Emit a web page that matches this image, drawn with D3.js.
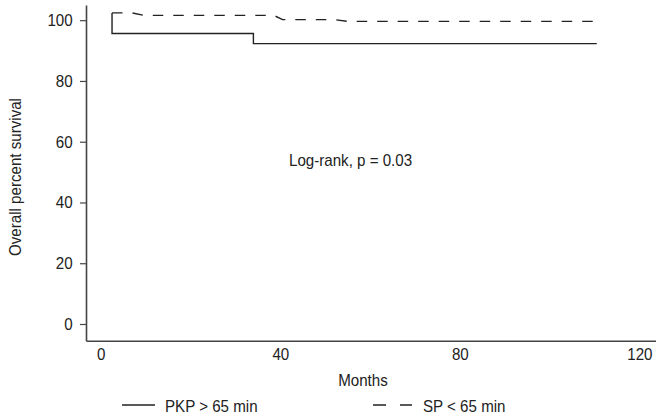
<!DOCTYPE html>
<html>
<head>
<meta charset="utf-8">
<script src="https://cdnjs.cloudflare.com/ajax/libs/d3/7.8.5/d3.min.js"></script>
<style>
body { margin: 0; background: #fff; }
svg { display: block; }
text { font-family: "Liberation Sans", Arial, sans-serif; fill: #222; }
</style>
</head>
<body>
<svg width="656" height="418"></svg>
<script>
// survival steps (months, percent)
var pkpMonths = [2.5, 2.5, 34, 34, 110.5];
var pkpSurvival = [102.4, 95.6, 95.6, 92.3, 92.3];

var spMonths = [2.5, 7, 9.5, 38.5, 40.5, 52, 55, 110.5];
var spSurvival = [102.4, 102.4, 101.6, 101.6, 100.2, 100.2, 99.6, 99.6];

var yTicks = [0, 20, 40, 60, 80, 100];
var xTicks = [0, 40, 80, 120];
var seriesNames = ["PKP > 65 min", "SP < 65 min"];

function pairs(xs, ys){
	return xs.map(function(d, i){ return [d, ys[i]] })
};

// the original type is a condensed face, squeeze the regular one
var squeeze = 'scale(0.89,1)';

function label(svg, x, y, txt, anchor, rotate){
	var g = svg.append('g')
		.attr('transform', 'translate(' + x + ',' + y + ')' + (rotate ? ' rotate(-90)' : '') + ' ' + squeeze);
	return g.append('text')
		.attr('text-anchor', anchor || 'start')
		.style('font-size', '17px')
		.text(txt);
};

window.onload = function(){

	var svg = d3.select('svg');

	var x = d3.scaleLinear().domain([-3.3, 123.7]).range([86, 656]);
	var y = d3.scaleLinear().domain([-5.5, 105]).range([340.7, 5]);

	// y axis
	var yAxis = svg.append('g')
		.attr('transform', 'translate(86,0)')
		.call(d3.axisLeft(y).tickValues(yTicks).tickSize(6).tickSizeOuter(0).tickPadding(9));
	yAxis.selectAll('text').style('font-size', '17px').style('font-family', null).attr('transform', squeeze);
	yAxis.select('.domain').attr('stroke', '#444').attr('stroke-width', 1.6);
	yAxis.selectAll('.tick line').attr('stroke', '#444').attr('stroke-width', 1.2);

	// x axis, labels only, no tick marks
	var xAxis = svg.append('g')
		.attr('transform', 'translate(0,340.7)')
		.call(d3.axisBottom(x).tickValues(xTicks).tickSize(0).tickSizeOuter(0).tickPadding(7));
	xAxis.selectAll('text').style('font-size', '17px').style('font-family', null).attr('transform', squeeze);
	xAxis.select('.domain').attr('stroke', '#444').attr('stroke-width', 1.6);

	var line = d3.line()
		.x(function(d){ return x(d[0]) })
		.y(function(d){ return y(d[1]) });

	svg.append('path')
		.datum(pairs(pkpMonths, pkpSurvival))
		.attr('d', line)
		.attr('fill', 'none')
		.attr('stroke', '#222')
		.attr('stroke-width', 1.4);

	svg.append('path')
		.datum(pairs(spMonths, spSurvival))
		.attr('d', line)
		.attr('fill', 'none')
		.attr('stroke', '#222')
		.attr('stroke-width', 1.4)
		.attr('stroke-dasharray', '10.5,10');

	// titles
	label(svg, 21, 177, 'Overall percent survival', 'middle', true);
	label(svg, 363, 386, 'Months', 'middle');
	label(svg, 289, 166, 'Log-rank, p = 0.03');

	// legend
	svg.append('line')
		.attr('x1', 122).attr('x2', 155).attr('y1', 405).attr('y2', 405)
		.attr('stroke', '#222').attr('stroke-width', 1.4);
	label(svg, 165, 412, seriesNames[0]);
	svg.append('line')
		.attr('x1', 373).attr('x2', 412).attr('y1', 405).attr('y2', 405)
		.attr('stroke', '#222').attr('stroke-width', 1.4)
		.attr('stroke-dasharray', '13,14');
	label(svg, 423, 412, seriesNames[1]);

};
</script>
</body>
</html>
